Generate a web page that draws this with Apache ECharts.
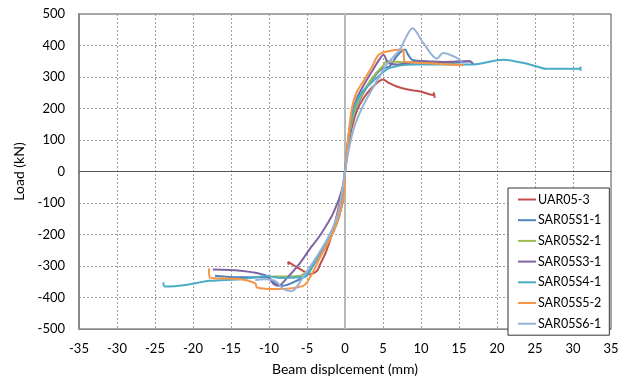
<!DOCTYPE html>
<html>
<head>
<meta charset="utf-8">
<script src="https://cdn.jsdelivr.net/npm/echarts@6/dist/echarts.min.js"></script>
<style>
  html, body { margin: 0; padding: 0; background: #fff; }
  #chart { width: 625px; height: 381px; }
</style>
</head>
<body>
<div id="chart"></div>
<script>
// 读图估计的数据 [位移 mm, 荷载 kN]
const seriesNames = ["UAR05-3", "SAR05S1-1", "SAR05S2-1", "SAR05S3-1", "SAR05S4-1", "SAR05S5-2", "SAR05S6-1"];
const colors = ["#C0504D", "#4F81BD", "#9BBB59", "#8064A2", "#4BACC6", "#F79646", "#95B3D7"];

const uar05_3 = [[-7.4,-296],[-7.5,-287],[-6.6,-300],[-5.9,-310],[-4.6,-326],[-3.7,-316],[-3.3,-296],[-2.5,-255],[-1.6,-190],[-0.9,-120],[-0.3,-50],[0,0],[0.4,70],[0.9,140],[1.6,195],[2.5,235],[3.5,265],[4.4,285],[5.0,292],[5.7,282],[6.8,270],[8.1,261],[9.9,254],[11.6,243],[11.7,249],[11.8,234]];
const sar05s1_1 = [[-17.1,-331],[-13.8,-336],[-10.3,-336],[-9.2,-355],[-8.3,-363],[-6.8,-352],[-5.0,-326],[-3.3,-263],[-1.5,-190],[-0.2,-85],[0,0],[0.4,90],[1.0,170],[1.9,225],[2.8,265],[3.8,300],[4.8,325],[5.9,334],[6.8,366],[7.9,387],[8.3,371],[8.8,355],[10.3,350],[12.5,345],[16.4,350],[16.8,343]];
const sar05s2_1 = [[-9.5,-333],[-7.5,-333],[-5.9,-331],[-4.2,-295],[-2.4,-221],[-0.7,-127],[0,0],[0.4,90],[1.0,170],[1.8,225],[2.8,270],[4.0,310],[5.0,335],[5.5,350],[7.5,347],[10,345],[13,343],[15,340]];
const sar05s3_1 = [[-17.4,-311],[-13.8,-315],[-10.3,-331],[-9.4,-357],[-8.8,-363],[-7.7,-340],[-5.9,-290],[-4.6,-245],[-3.2,-200],[-1.5,-130],[-0.2,-43],[0,0],[0.4,100],[0.9,180],[1.6,235],[2.6,280],[3.6,320],[4.5,355],[5.05,371],[5.7,345],[6.8,340],[8.5,345],[10.3,350],[13,348],[16.4,350],[16.9,340]];
const sar05s4_1 = [[-23.9,-352],[-23.7,-365],[-21,-360],[-17.8,-347],[-13.8,-342],[-11.2,-334],[-10.3,-332],[-8.5,-338],[-5.9,-336],[-5.0,-331],[-3.7,-274],[-2.0,-211],[-0.7,-137],[0,0],[0.3,80],[0.8,160],[1.4,215],[2.2,251],[3.2,275],[4.5,305],[5.9,329],[9.0,340],[16.9,340],[20.8,355],[24.3,340],[26.5,326],[30.9,326],[31.0,333],[31.0,320]];
const sar05s5_2 = [[-17.9,-307],[-17.8,-336],[-13.8,-342],[-11.8,-355],[-11.6,-368],[-9.0,-373],[-5.5,-363],[-4.6,-336],[-3.3,-274],[-1.5,-190],[-0.2,-85],[0,0],[0.4,100],[0.9,200],[1.5,250],[2.5,290],[3.5,330],[4.4,370],[5.5,381],[7.5,387],[7.7,381],[7.8,350],[8.6,347],[12,342],[15.6,337]];
const sar05s6_1 = [[-11.8,-345],[-10.7,-342],[-9.2,-347],[-8.1,-373],[-7.0,-380],[-6.4,-368],[-5.7,-342],[-4.8,-310],[-3.5,-262],[-2.0,-200],[-0.9,-130],[0,0],[0.5,70],[1.2,140],[2.2,200],[3.3,250],[4.5,300],[5.5,340],[7.2,387],[8.9,455],[10.3,408],[12.1,358],[12.9,376],[14.7,361],[15.4,348]];

const allData = [uar05_3, sar05s1_1, sar05s2_1, sar05s3_1, sar05s4_1, sar05s5_2, sar05s6_1];

const xMin = -35, xMax = 35, xStep = 5;
const yMin = -500, yMax = 500, yStep = 100;

const font = "Lato";
const chart = echarts.init(document.getElementById("chart"), null, { renderer: "canvas" });

const series = allData.map((d, i) => ({
  name: seriesNames[i],
  type: "line",
  data: d,
  symbol: "none",
  smooth: 0.3,
  lineStyle: { color: colors[i], width: 2 },
  itemStyle: { color: colors[i] },
  z: 3 + i,
}));

// 零线
series[0].markLine = {
  silent: true,
  symbol: "none",
  label: { show: false },
  data: [
    { xAxis: 0, lineStyle: { color: "#b8b8b8", width: 2, type: "solid" } },
    { yAxis: 0, lineStyle: { color: "#555", width: 1, type: "solid" } },
  ],
};

const option = {
  animation: false,
  backgroundColor: "#fff",
  grid: { left: 79, right: 14, top: 14, bottom: 49, show: true, borderColor: "#555", borderWidth: 1 },
  xAxis: {
    type: "value",
    min: xMin, max: xMax, interval: xStep,
    name: "Beam displcement (mm)",
    nameLocation: "middle",
    nameGap: 33,
    nameTextStyle: { fontFamily: font, fontSize: 14, color: "#000" },
    axisLine: { onZero: false, lineStyle: { color: "#888", width: 1 } },
    axisTick: { show: false },
    axisLabel: { fontFamily: font, fontSize: 13, color: "#000", margin: 13 },
    splitLine: { lineStyle: { color: "#a0a0a0", type: [2, 2], width: 1 } },
  },
  yAxis: {
    type: "value",
    min: yMin, max: yMax, interval: yStep,
    name: "Load (kN)",
    nameLocation: "middle",
    nameGap: 52,
    nameRotate: 90,
    nameTextStyle: { fontFamily: font, fontSize: 14, color: "#000" },
    axisLine: { onZero: false, lineStyle: { color: "#888", width: 2 } },
    axisTick: { show: false },
    axisLabel: { fontFamily: font, fontSize: 13, color: "#000", margin: 14 },
    splitLine: { lineStyle: { color: "#a0a0a0", type: [2, 2], width: 1 } },
  },
  legend: {
    orient: "vertical",
    left: 508,
    top: 188,
    padding: [5, 8, 5, 10],
    itemWidth: 18,
    itemHeight: 12,
    itemGap: 7.7,
    backgroundColor: "#fff",
    borderColor: "#333",
    borderWidth: 1,
    borderRadius: 0,
    textStyle: { fontFamily: font, fontSize: 12.5, color: "#000", padding: [0, 0, 0, -3], lineHeight: 12 },
    data: seriesNames.map((n) => ({ name: n, icon: "path://M0,5 L18,5 L18,7 L0,7 Z" })),
  },
  series: series,
};

chart.setOption(option);
</script>
</body>
</html>
